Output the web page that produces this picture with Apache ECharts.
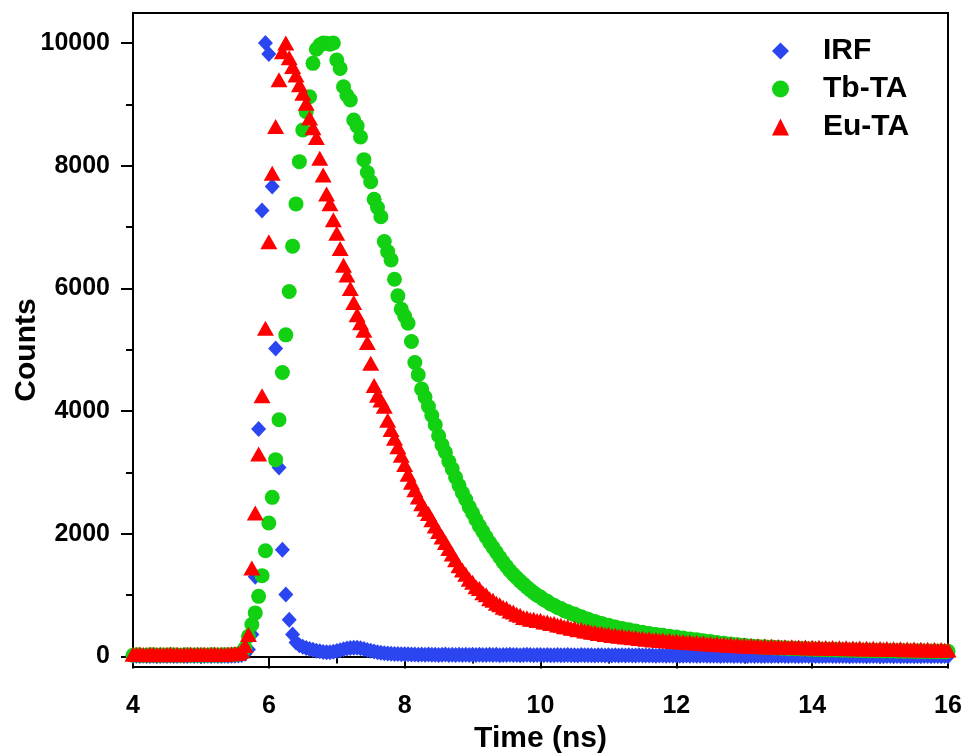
<!DOCTYPE html>
<html>
<head>
<meta charset="utf-8">
<script src="https://cdn.jsdelivr.net/npm/echarts@6/dist/echarts.min.js"></script>
<style>html,body{margin:0;padding:0;background:#fff}#c{width:968px;height:753px}</style>
</head>
<body>
<div id="c"></div>
<script>
const time = [
4.00,4.05,4.10,4.15,4.20,4.25,4.30,4.35,4.40,4.45,4.50,4.55,4.60,4.65,4.70,4.75,4.80,4.85,4.90,4.95,
5.00,5.05,5.10,5.15,5.20,5.25,5.30,5.35,5.40,5.45,5.50,5.55,5.60,5.65,5.70,5.75,5.80,5.85,5.90,5.95,
6.00,6.05,6.10,6.15,6.20,6.25,6.30,6.35,6.40,6.45,6.50,6.55,6.60,6.65,6.70,6.75,6.80,6.85,6.90,6.95,
7.00,7.05,7.10,7.15,7.20,7.25,7.30,7.35,7.40,7.45,7.50,7.55,7.60,7.65,7.70,7.75,7.80,7.85,7.90,7.95,
8.00,8.05,8.10,8.15,8.20,8.25,8.30,8.35,8.40,8.45,8.50,8.55,8.60,8.65,8.70,8.75,8.80,8.85,8.90,8.95,
9.00,9.05,9.10,9.15,9.20,9.25,9.30,9.35,9.40,9.45,9.50,9.55,9.60,9.65,9.70,9.75,9.80,9.85,9.90,9.95,
10.00,10.05,10.10,10.15,10.20,10.25,10.30,10.35,10.40,10.45,10.50,10.55,10.60,10.65,10.70,10.75,10.80,10.85,10.90,10.95,
11.00,11.05,11.10,11.15,11.20,11.25,11.30,11.35,11.40,11.45,11.50,11.55,11.60,11.65,11.70,11.75,11.80,11.85,11.90,11.95,
12.00,12.05,12.10,12.15,12.20,12.25,12.30,12.35,12.40,12.45,12.50,12.55,12.60,12.65,12.70,12.75,12.80,12.85,12.90,12.95,
13.00,13.05,13.10,13.15,13.20,13.25,13.30,13.35,13.40,13.45,13.50,13.55,13.60,13.65,13.70,13.75,13.80,13.85,13.90,13.95,
14.00,14.05,14.10,14.15,14.20,14.25,14.30,14.35,14.40,14.45,14.50,14.55,14.60,14.65,14.70,14.75,14.80,14.85,14.90,14.95,
15.00,15.05,15.10,15.15,15.20,15.25,15.30,15.35,15.40,15.45,15.50,15.55,15.60,15.65,15.70,15.75,15.80,15.85,15.90,15.95,
16.00
];

const irf = [
10,12,8,14,9,11,13,7,10,12,9,15,10,8,12,11,9,13,10,12,
11,9,12,10,13,9,11,14,10,12,15,18,25,45,114,358,1300,3710,7270,10000,
9820,7660,5020,3080,1740,1010,600,360,230,185,160,140,125,110,95,85,75,70,72,80,
90,105,120,132,140,145,142,135,122,108,95,82,72,62,55,50,46,42,40,38,
36,38,33,35,30,34,29,33,28,31,27,30,32,26,30,27,31,25,29,26,
30,25,28,24,27,29,25,28,23,27,25,28,24,27,23,26,28,24,22,26,
25,22,26,23,21,25,22,20,24,21,23,19,24,21,20,23,19,22,20,18,
22,19,21,18,21,17,20,18,16,20,17,19,16,18,15,19,16,15,18,14,
17,15,14,17,13,16,14,12,16,13,15,12,14,11,15,12,14,11,13,10,
13,11,14,10,13,11,10,13,9,12,10,13,9,11,12,9,11,8,12,9,
11,9,8,11,9,12,8,10,11,8,10,7,11,8,10,8,7,10,8,11,
9,7,10,8,6,10,7,9,6,9,7,10,6,8,9,6,8,9,6,8,
7
];

const tbTA = [
22,28,25,20,27,24,30,22,26,25,21,28,24,27,23,26,29,22,25,27,
24,26,23,28,25,27,24,29,26,30,34,42,65,140,331,521,712,982,1319,1726,
2177,2595,3210,3860,4630,5244,5950,6690,7378,8067,8583,8881,9125,9669,9900,9967,10000,9995,9980,10000,
9723,9587,9288,9150,9072,8746,8650,8470,8100,7890,7740,7455,7320,7170,6764,6600,6466,6150,5880,5663,
5550,5435,5135,4793,4593,4360,4230,4077,3930,3779,3600,3450,3330,3180,3060,2920,2790,2670,2560,2440,
2340,2230,2130,2040,1950,1860,1780,1700,1620,1540,1470,1400,1340,1285,1230,1180,1130,1085,1040,1000,
970,925,900,857,837,800,783,747,733,701,693,660,650,619,610,581,573,547,541,515,
511,487,483,461,459,437,436,415,415,395,395,376,377,359,361,343,346,329,332,315,
318,300,302,284,287,270,273,256,259,242,245,228,231,215,218,202,206,190,194,178,
183,168,174,160,166,153,160,147,154,141,148,136,143,131,139,127,135,123,131,119,
127,116,124,113,121,110,118,107,116,104,113,102,111,99,108,97,106,95,104,93,
102,91,100,90,99,88,97,86,96,85,94,83,93,82,91,81,90,80,89,78,
86
];

const euTA = [
38,32,40,35,30,42,36,33,39,31,37,41,34,36,30,38,35,40,33,37,
36,39,33,37,41,35,38,34,40,44,50,55,90,180,358,1444,2340,3300,4250,5350,
6760,7880,8640,9400,9860,10000,9760,9620,9480,9320,9180,9020,8780,8620,8460,8122,7850,7540,7380,7120,
6900,6650,6380,6220,6000,5770,5570,5440,5320,5120,4780,4420,4260,4180,4080,3850,3700,3560,3420,3280,
3130,2970,2840,2720,2600,2490,2400,2330,2230,2130,2040,1950,1860,1760,1670,1580,1480,1410,1340,1260,
1210,1140,1108,1042,1008,944,918,868,846,804,788,742,726,688,675,638,634,607,609,586,
590,563,562,537,538,514,512,488,487,462,462,438,440,416,417,395,398,377,380,360,
364,344,349,330,336,317,323,305,311,293,300,282,289,272,279,262,269,252,260,244,
252,236,244,228,236,220,228,212,220,204,213,198,207,192,201,186,195,180,189,174,
184,170,180,166,176,162,172,158,168,155,165,152,162,149,159,146,157,143,154,141,
152,140,150,137,148,135,146,133,144,131,142,129,140,127,138,125,136,123,134,121,
132,119,130,117,128,115,126,113,124,111,122,109,120,107,118,105,116,103,114,101,
108
];

const seriesNames = ['IRF', 'Tb-TA', 'Eu-TA'];
const yTicks = [0, 2000, 4000, 6000, 8000, 10000];
const yMinorTicks = [1000, 3000, 5000, 7000, 9000];

const FONT = '"Liberation Sans", Arial, sans-serif';
const pairs = arr => time.map((t, i) => [t, arr[i]]);

const chart = echarts.init(document.getElementById('c'), null, {renderer: 'canvas'});
const axisTxt = {fontSize: 25, fontWeight: 'bold', color: '#000', fontFamily: FONT};
const nameTxt = {fontSize: 30, fontWeight: 'bold', color: '#000', fontFamily: FONT};
chart.setOption({
  animation: false,
  backgroundColor: '#fff',
  grid: {left: 133, right: 20, top: 13, bottom: 86, containLabel: false, outerBoundsMode: 'none',
         show: true, borderColor: '#000', borderWidth: 2, backgroundColor: 'transparent'},
  legend: {
    orient: 'vertical', left: 767, top: 31, itemWidth: 17, itemHeight: 17, itemGap: 8,
    textStyle: {fontSize: 30, fontWeight: 'bold', color: '#000', fontFamily: FONT, lineHeight: 30, padding: [0, 0, 0, 29]},
    data: seriesNames
  },
  xAxis: [{
    type: 'value', min: 4, max: 16, interval: 2,
    axisLine: {lineStyle: {color: '#000', width: 2}},
    axisTick: {length: 12, lineStyle: {color: '#000', width: 2}},
    minorTick: {show: true, splitNumber: 2, length: 7, lineStyle: {color: '#000', width: 2}},
    splitLine: {show: false},
    axisLabel: Object.assign({margin: 27, formatter: v => String(v)}, axisTxt),
    name: 'Time (ns)', nameLocation: 'middle', nameGap: 57, nameMoveOverlap: false,
    nameTextStyle: nameTxt
  }],
  yAxis: [{
    type: 'value', min: -170, max: 10490,
    axisLine: {show: true, lineStyle: {color: '#000', width: 2}},
    axisTick: {show: true, length: 12, customValues: yTicks, lineStyle: {color: '#000', width: 2}},
    axisLabel: Object.assign({margin: 23, customValues: yTicks, formatter: v => String(v)}, axisTxt),
    splitLine: {show: false},
    name: 'Counts', nameLocation: 'middle', nameGap: 91, nameMoveOverlap: false,
    nameTextStyle: Object.assign({padding: [0, 20, 0, 0]}, nameTxt)
  }, {
    type: 'value', min: -170, max: 10490, position: 'left',
    axisLine: {show: false},
    axisTick: {show: true, length: 7, customValues: yMinorTicks, lineStyle: {color: '#000', width: 2}},
    axisLabel: {show: false},
    splitLine: {show: false}
  }],
  series: [
    {name: 'IRF', type: 'scatter', data: pairs(irf), symbol: 'diamond', symbolSize: [15, 16], clip: false,
     itemStyle: {color: '#2b46f0', opacity: 1}, z: 2},
    {name: 'Tb-TA', type: 'scatter', data: pairs(tbTA), symbol: 'circle', symbolSize: 15, clip: false,
     itemStyle: {color: '#12d012', opacity: 1}, z: 3},
    {name: 'Eu-TA', type: 'scatter', data: pairs(euTA), symbol: 'triangle', symbolSize: [17, 15], clip: false,
     itemStyle: {color: '#ff0000', opacity: 1}, z: 4}
  ]
});
</script>
</body>
</html>
